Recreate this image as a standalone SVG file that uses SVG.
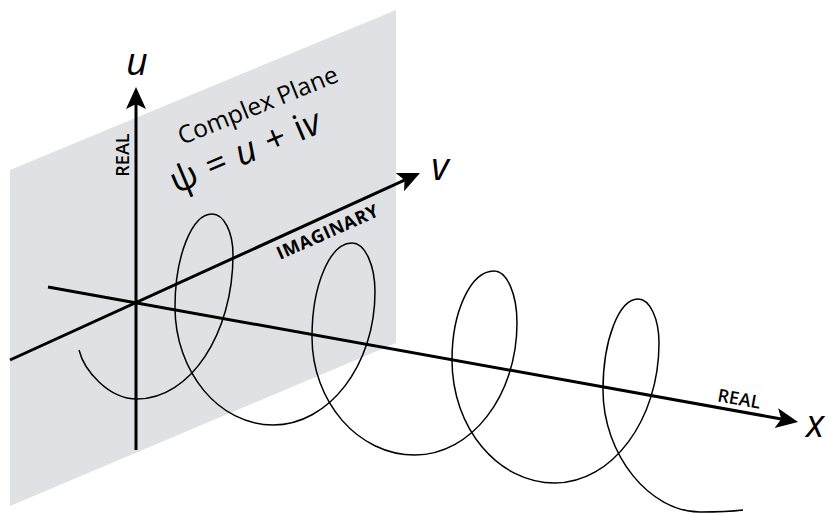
<svg xmlns="http://www.w3.org/2000/svg" width="828" height="514" viewBox="0 0 828 514">
<defs>
<style>
.axis{stroke:#000;stroke-width:3;fill:none}
.helix{stroke:#000;stroke-width:1.5;fill:none}
.lbl{font-family:"Open Sans","Liberation Sans",sans-serif;fill:#000}
.var{font-style:italic;font-size:38px}
.tag{font-weight:600;font-size:18px}
</style>
<marker id="ah" markerUnits="userSpaceOnUse" markerWidth="24" markerHeight="22" viewBox="0 -11 24 22" refX="5" refY="0" orient="auto">
<path d="M0,-10 L22,0 L0,10 L5,0 Z" fill="#000"/>
</marker>
</defs>
<g id="plane">
<polygon points="10,170 396,10 396,343 10,506" fill="#dfe1e4"/>
<text class="lbl" x="182" y="145" style="font-size:24.5px" transform="rotate(-22 182 145)">Complex Plane</text>
<text class="lbl" x="176" y="194" style="font-size:36px;word-spacing:2px" transform="rotate(-23 176 194)">ψ = <tspan font-style="italic">u</tspan> + i<tspan font-style="italic">v</tspan></text>
</g>
<g id="connectors">
<line class="axis" x1="136" y1="450" x2="136" y2="104" marker-end="url(#ah)"/>
<line class="axis" x1="10" y1="360" x2="404.5" y2="180.1" marker-end="url(#ah)"/>
<line class="axis" x1="48" y1="287" x2="781.3" y2="419" marker-end="url(#ah)"/>
</g>
<g id="helix">
<path class="helix" d="M79,350 C84,370 108,399 137,399
C190,399 233,334 233,255 C233,232 224,214 212,214 C192,214 175,256 175,307 C175,372 219,425 273,425
C329,425 375,365 375,292 C375,265 365,243 352,243 C330,243 312,285 312,337 C312,402 358,455 415,455
C471,455 517,396 517,323 C517,294 507,271 494,271 C471,271 452,311 452,360 C452,428 498,483 555,483
C612,483 659,420 659,343 C659,319 650,299 638,299 C619,299 603,340 603,390 C603,455 650,512 700,512
C720,512 735,511 743,510"/>
</g>
<g id="labels">
<text class="lbl var" x="137" y="75" text-anchor="middle">u</text>
<text class="lbl var" x="440" y="180" text-anchor="middle">v</text>
<text class="lbl var" x="806" y="437">x</text>
<text class="lbl tag" x="129" y="155" text-anchor="middle" transform="rotate(-90 129 155)">REAL</text>
<text class="lbl tag" x="738" y="405" text-anchor="middle" transform="rotate(10.2 738 405)">REAL</text>
<text class="lbl tag" x="280" y="260" style="font-weight:700;font-size:18px;letter-spacing:0.6px" transform="rotate(-24 280 260)">IMAGINARY</text>
</g>
</svg>
